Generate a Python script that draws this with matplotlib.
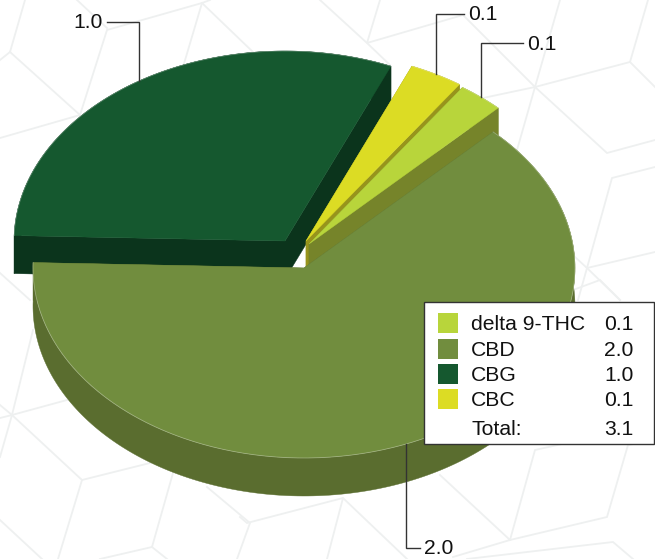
from matplotlib import pyplot as plt
from matplotlib.patches import Polygon, Rectangle
import numpy as np

plt.rcParams['font.family'] = ['Liberation Sans', 'DejaVu Sans']

# Legend order, slices run clockwise from start_angle
names = ['delta 9-THC', 'CBD', 'CBG', 'CBC']
values = [0.085, 1.98, 0.97, 0.10]
top_colors = ['#b8d53b', '#718d3e', '#15582f', '#dcdc24']
wall_colors = ['#76842a', '#5a6d2f', '#0b341c', '#97941c']

start_angle = 55.5
rx = 271
ry = 190
depth = 38
# Pixel position of each exploded slice's apex
centers = [(309, 244), (304, 268), (285, 241), (306, 241)]
# Leader elbows: elbow x comes from the slice, these are the label rows
label_rows = [43, 548, 22, 14]
label_ends = [523, 420, 107, 464]
draw_order = [2, 3, 0, 1]

# Faint cube pattern behind the chart
bg_lines = [
    [(25, 0), (10, 52), (80, 115), (107, 30), (202, 3), (253, 52)],
    [(0, 60), (10, 52)], [(0, 138), (80, 115)], [(77, 0), (107, 28)],
    [(202, 3), (183, 67)], [(210, 0), (202, 3)],
    [(320, 0), (367, 43), (390, 65)], [(380, 0), (367, 43), (463, 15), (535, 87), (607, 153), (655, 140)],
    [(560, 0), (535, 87), (517, 150)], [(483, 98), (535, 87), (630, 62), (655, 87)],
    [(648, 0), (630, 62)], [(655, 167), (612, 178), (587, 268), (578, 300)],
    [(575, 257), (587, 268), (620, 300)], [(587, 268), (655, 252)],
    [(0, 273), (30, 300)], [(33, 330), (12, 415), (0, 457)], [(0, 418), (12, 415), (67, 400)],
    [(0, 405), (12, 415), (82, 480), (150, 463)], [(82, 480), (58, 559)], [(0, 520), (42, 559)],
    [(173, 473), (152, 547), (100, 559)], [(152, 547), (167, 559)],
    [(207, 487), (250, 523), (237, 559)], [(240, 517), (247, 523), (343, 498), (327, 559)],
    [(343, 498), (407, 559)], [(440, 475), (510, 540), (535, 450), (580, 440)],
    [(510, 540), (607, 517), (628, 445), (655, 440)], [(453, 557), (510, 540)],
    [(467, 559), (613, 542), (633, 559)], [(573, 290), (600, 280), (620, 300)],
]


def ellipse_points(center, a0, a1):
    t = np.radians(np.linspace(a0, a1, 200))
    return np.column_stack([center[0] + rx * np.cos(t), center[1] - ry * np.sin(t)])


def draw_slice(ax, center, a0, a1, top, wall):
    arc = ellipse_points(center, a0, a1)
    low = arc + [0, depth]
    # Radial walls, then the rim
    for p in (arc[0], arc[-1]):
        face = [center, p, (p[0], p[1] + depth), (center[0], center[1] + depth)]
        ax.add_patch(Polygon(face, facecolor=wall, edgecolor=wall, lw=0.3, zorder=3))
    rim = np.vstack([arc, low[::-1]])
    ax.add_patch(Polygon(rim, facecolor=wall, edgecolor=wall, lw=0.3, zorder=3))
    face = np.vstack([[center], arc])
    ax.add_patch(Polygon(face, facecolor=top, edgecolor=top, lw=0.3, zorder=3))
    # Thin light seam where the top meets the rim
    ax.plot(arc[:, 0], arc[:, 1], color='#ffffff', alpha=0.3, lw=0.6, zorder=3)


def main():
    fig = plt.figure(figsize=(6.55, 5.59), dpi=100)
    ax = fig.add_axes([0, 0, 1, 1])
    ax.set_xlim(0, 655)
    ax.set_ylim(559, 0)
    ax.axis('off')

    for seg in bg_lines:
        xs, ys = zip(*seg)
        ax.plot(xs, ys, color='#eef0f0', lw=1.3, zorder=1, solid_joinstyle='miter')

    sweeps = np.array(values) / sum(values) * 360
    ends = start_angle - np.cumsum(sweeps)
    starts = ends + sweeps

    for i in draw_order:
        draw_slice(ax, centers[i], starts[i], ends[i], top_colors[i], wall_colors[i])

    # Leader lines start on the rim at the middle of each slice
    for i in range(len(values)):
        mid = np.radians((starts[i] + ends[i]) / 2)
        x0 = centers[i][0] + rx * np.cos(mid)
        y0 = centers[i][1] - ry * np.sin(mid)
        row = label_rows[i]
        end = label_ends[i]
        ax.plot([x0, x0, end], [y0, row, row], color='#333333', lw=1, zorder=4,
                solid_joinstyle='miter')
        ha = 'right' if end < x0 else 'left'
        off = -4 if end < x0 else 4
        ax.text(end + off, row + 1, '%.1f' % values[i], fontsize=15.2, color='#111111',
                ha=ha, va='center', zorder=6)

    # Legend box
    ax.add_patch(Rectangle((423.5, 302), 230, 142, facecolor='white', edgecolor='#333333',
                           lw=1, zorder=5))
    rows = [323, 349, 374, 399]
    for i, y in enumerate(rows):
        ax.add_patch(Rectangle((438, y - 10), 20, 20, facecolor=top_colors[i], edgecolor='none',
                               zorder=6))
        ax.text(471, y + 1.5, names[i], fontsize=15.2, color='#111111', va='center', zorder=6)
        ax.text(604, y + 1.5, '%.1f' % values[i], fontsize=15.2, color='#111111', va='center', zorder=6)
    ax.text(471, 429.5, 'Total:', fontsize=15.2, color='#111111', va='center', zorder=6)
    ax.text(604, 429.5, '%.1f' % sum(values), fontsize=15.2, color='#111111', va='center', zorder=6)

    fig.savefig('out.png', dpi=100)


if __name__ == "__main__":
    main()
